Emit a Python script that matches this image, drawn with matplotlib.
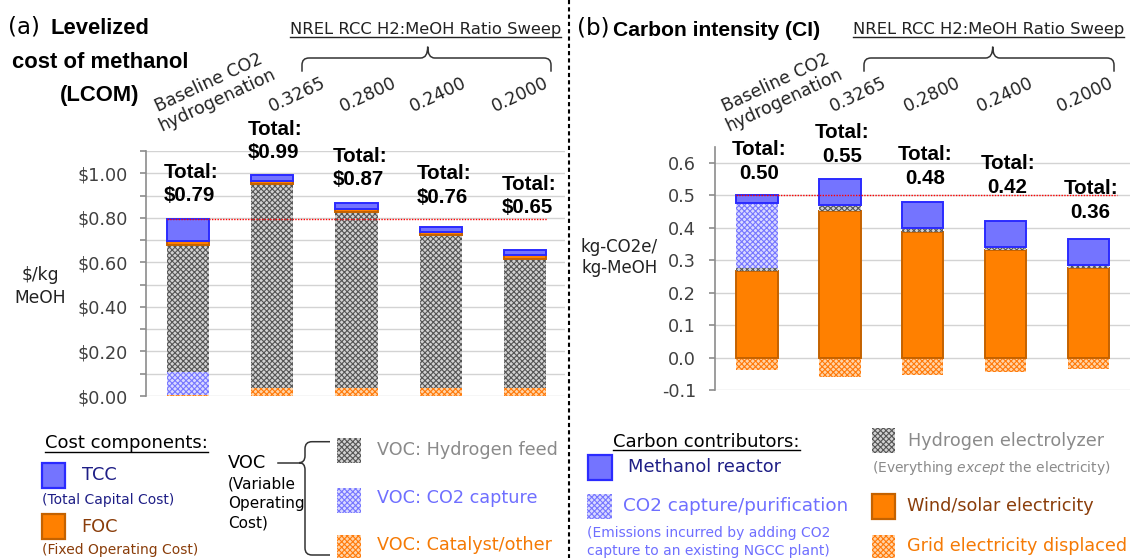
import matplotlib
matplotlib.use('Agg')
import numpy as np
import matplotlib.pyplot as plt
from matplotlib.patches import Rectangle, PathPatch
from matplotlib.path import Path
from matplotlib.ticker import FixedLocator, FuncFormatter

plt.rcParams['font.family'] = ['DejaVu Sans']
plt.rcParams['hatch.linewidth'] = 0.8

# ---------------- data ----------------
cases = ['Baseline CO2\nhydrogenation', '0.3265', '0.2800', '0.2400', '0.2000']

# (a) Levelized cost of methanol, $/kg MeOH
lcom_catalyst = [0.004, 0.035, 0.035, 0.035, 0.035]
lcom_co2 = [0.106, 0.0, 0.0, 0.0, 0.0]
lcom_h2 = [0.566, 0.916, 0.793, 0.687, 0.580]
lcom_foc = [0.021, 0.014, 0.012, 0.016, 0.018]
lcom_tcc = [0.096, 0.027, 0.028, 0.022, 0.023]
lcom_totals = ['$0.79', '$0.99', '$0.87', '$0.76', '$0.65']

# (b) Carbon intensity, kg-CO2e / kg-MeOH
ci_grid = [-0.038, -0.060, -0.053, -0.045, -0.036]
ci_wind = [0.268, 0.452, 0.386, 0.331, 0.277]
ci_h2 = [0.007, 0.018, 0.014, 0.011, 0.008]
ci_co2 = [0.200, 0.0, 0.0, 0.0, 0.0]
ci_reactor = [0.025, 0.079, 0.080, 0.080, 0.080]
ci_totals = ['0.50', '0.55', '0.48', '0.42', '0.36']

# ---------------- layout ----------------
W, H = 1133, 558
BOLD = ['Liberation Sans', 'DejaVu Sans']
REG = ['DejaVu Sans']
TICKC = '#404040'
NAVY = '#1e1e86'
LBLUE = '#6f6fff'
BROWN = '#8a3d0a'
ORANGE = '#f57a05'
GRAY = '#8a8a8a'

STY = {
    'h2': dict(facecolor='#d2d2d2', edgecolor='#555555', hatch='xxxxxx', linewidth=0),
    'co2': dict(facecolor='#dadaff', edgecolor='#7676ff', hatch='xxxxxx', linewidth=0),
    'cat': dict(facecolor='#ffd4a8', edgecolor='#ff7a0a', hatch='xxxxxx', linewidth=0),
    'tcc': dict(facecolor='#7474ff', edgecolor='#2b2bff', linewidth=1.4),
    'foc': dict(facecolor='#ff8000', edgecolor='#c46200', linewidth=1.4),
}

fig = plt.figure(figsize=(W / 100, H / 100), dpi=100)


def px_axes(x0, y0, x1, y1):
    return fig.add_axes([x0 / W, 1 - y1 / H, (x1 - x0) / W, (y1 - y0) / H])


ax1 = px_axes(145.5, 151, 565, 396)
ax2 = px_axes(715.4, 146.5, 1130, 390.2)
x = np.arange(len(cases))
BW = 0.5


def stack(ax, series):
    bottom = np.zeros(len(x))
    for vals, key in series:
        vals = np.asarray(vals, dtype=float)
        ax.bar(x, vals, BW, bottom=bottom, zorder=2, **STY[key])
        bottom = bottom + vals
    return bottom


tot1 = stack(ax1, [(lcom_catalyst, 'cat'), (lcom_co2, 'co2'), (lcom_h2, 'h2'),
                   (lcom_foc, 'foc'), (lcom_tcc, 'tcc')])
ax2.bar(x, ci_grid, BW, zorder=2, **STY['cat'])
tot2 = stack(ax2, [(ci_wind, 'foc'), (ci_h2, 'h2'), (ci_co2, 'co2'), (ci_reactor, 'tcc')])

# baseline reference lines
ax1.hlines(tot1[0], -0.25, 4.26, colors='red', linestyles=(0, (1, 1)), lw=1, zorder=3)
ax2.hlines(tot2[0], -0.25, 4.34, colors='red', linestyles=(0, (1, 1)), lw=1, zorder=3)

for ax in (ax1, ax2):
    for s in ('top', 'right', 'bottom'):
        ax.spines[s].set_visible(False)
    ax.spines['left'].set_color('#8c8c8c')
    ax.spines['left'].set_linewidth(1.2)
    ax.set_xticks([])
    ax.set_axisbelow(True)
    ax.set_facecolor('none')

ax1.set_xlim(-0.5, 4.47)
ax1.set_ylim(0, 1.1)
ax1.yaxis.set_major_locator(FixedLocator([0, 0.2, 0.4, 0.6, 0.8, 1.0]))
ax1.yaxis.set_minor_locator(FixedLocator([0.1, 0.3, 0.5, 0.7, 0.9, 1.1]))
ax1.yaxis.set_major_formatter(FuncFormatter(lambda v, p: f'${v:.2f}'))
ax1.yaxis.grid(True, which='both', color='#d3d3d3', lw=1)
ax1.tick_params(axis='y', which='both', length=4, width=1.2, color='#8c8c8c',
                labelsize=12.7, labelcolor=TICKC, pad=9)

ax2.set_xlim(-0.5, 4.5)
ax2.set_ylim(-0.1, 0.65)
yt2 = np.round(np.arange(-0.1, 0.61, 0.1), 1)
ax2.yaxis.set_major_locator(FixedLocator(yt2))
ax2.yaxis.set_major_formatter(FuncFormatter(lambda v, p: f'{round(v, 1) + 0.0:.1f}'))
ax2.yaxis.grid(True, color='#d3d3d3', lw=1)
ax2.tick_params(axis='y', length=4, width=1.2, color='#8c8c8c',
                labelsize=12.7, labelcolor=TICKC, pad=10)

# total labels
lab_y1 = [0.953, 1.145, 1.022, 0.945, 0.900]
lab_y2 = [0.604, 0.656, 0.589, 0.561, 0.485]
for i in range(len(x)):
    for s, dy in (('Total:', 8.3), (lcom_totals[i], -8.3)):
        ax1.annotate(s, xy=(x[i] - BW / 2 - 0.035, lab_y1[i]), xytext=(0, dy),
                     textcoords='offset points', ha='left', va='center',
                     fontsize=14.8, fontweight='bold', family=BOLD, annotation_clip=False)
    for s, dy in (('Total:', 8.6), (ci_totals[i], -8.6)):
        ax2.annotate(s, xy=(x[i] + 0.025, lab_y2[i]), xytext=(0, dy),
                     textcoords='offset points', ha='center', va='center',
                     fontsize=14.8, fontweight='bold', family=BOLD, annotation_clip=False)

# ---------------- overlay in pixel coordinates ----------------
ov = fig.add_axes([0, 0, 1, 1])
ov.set_xlim(0, W)
ov.set_ylim(H, 0)
ov.axis('off')
renderer = fig.canvas.get_renderer()


def T(xx, yy, s, size=12.7, color='black', ha='left', va='center', family=REG, **kw):
    return ov.text(xx, yy, s, fontsize=size, color=color, ha=ha, va=va, family=family, **kw)


def underline(t, y, color='black'):
    bb = t.get_window_extent(renderer)
    (x0, _), (x1, _) = ov.transData.inverted().transform([[bb.x0, bb.y0], [bb.x1, bb.y1]])
    ov.plot([x0, x1], [y, y], color=color, lw=1)


def hbrace(x0, xm, x1, ytop, ypeak, ybot, r=7):
    v = [(x0, ybot), (x0, ytop + r), (x0, ytop), (x0 + r, ytop), (xm - r, ytop),
         (xm, ytop), (xm, ypeak),
         (xm, ypeak), (xm, ytop), (xm + r, ytop), (x1 - r, ytop), (x1, ytop), (x1, ytop + r),
         (x1, ybot)]
    c = [Path.MOVETO, Path.LINETO, Path.CURVE3, Path.CURVE3, Path.LINETO, Path.CURVE3, Path.CURVE3,
         Path.MOVETO, Path.CURVE3, Path.CURVE3, Path.LINETO, Path.CURVE3, Path.CURVE3, Path.LINETO]
    ov.add_patch(PathPatch(Path(v, c), fill=False, lw=1.1, edgecolor='#333333'))


def vbrace(y0, ym, y1, xs, xtip, xend, r=7):
    v = [(xend, y0), (xs + r, y0), (xs, y0), (xs, y0 + r), (xs, ym - r), (xs, ym), (xtip, ym),
         (xtip, ym), (xs, ym), (xs, ym + r), (xs, y1 - r), (xs, y1), (xs + r, y1), (xend, y1)]
    c = [Path.MOVETO, Path.LINETO, Path.CURVE3, Path.CURVE3, Path.LINETO, Path.CURVE3, Path.CURVE3,
         Path.MOVETO, Path.CURVE3, Path.CURVE3, Path.LINETO, Path.CURVE3, Path.CURVE3, Path.LINETO]
    ov.add_patch(PathPatch(Path(v, c), fill=False, lw=1.1, edgecolor='#333333'))


def swatch(x0, y0, w, h, key):
    st = dict(STY[key])
    if key in ('tcc', 'foc'):
        st['linewidth'] = 1.6
    ov.add_patch(Rectangle((x0, y0), w, h, **st))


# titles
T(8, 27, '(a)', size=16.5)
T(100, 29, 'Levelized', size=15.8, ha='center', family=BOLD, fontweight='bold')
T(100, 62, 'cost of methanol', size=15.8, ha='center', family=BOLD, fontweight='bold')
T(100, 95, '(LCOM)', size=15.8, ha='center', family=BOLD, fontweight='bold')
T(577, 28, '(b)', size=16.5)
T(613, 31, 'Carbon intensity (CI)', size=15.2, family=BOLD, fontweight='bold')

# ratio-sweep headers and braces
for xl, (b0, bm, b1) in ((290, (302, 427.7, 551)), (852.7, (864, 992.7, 1114))):
    t = T(xl, 34.3, 'NREL RCC H2:MeOH Ratio Sweep', size=11.8, color='#222222', va='baseline')
    underline(t, 36.6, '#222222')
    hbrace(b0, bm, b1, 58, 46.7, 71.7)

# category labels (anchored at the baseline start of the last line)
ROT = 25
cat_pos1 = [(161, 130.5), (271.7, 111.7), (343.3, 111.7), (413.3, 111.7), (495, 111.7)]
cat_pos2 = [(728, 130.5), (833.3, 111.7), (906.7, 111.7), (980, 111.7), (1060, 111.7)]
for pos in (cat_pos1, cat_pos2):
    for (cx, cy), s in zip(pos, cases):
        T(cx, cy, s, size=12.5, color='#222222', va='baseline', rotation=ROT,
          rotation_mode='anchor', multialignment='center', linespacing=1.05)

# y labels
T(40, 275, '$/kg', size=12.3, ha='center', color='#222222')
T(40, 298.3, 'MeOH', size=12.3, ha='center', color='#222222')
T(619.4, 246.7, 'kg-CO2e/', size=12.0, ha='center', color='#222222')
T(619.4, 268.3, 'kg-MeOH', size=12.0, ha='center', color='#222222')

# divider
ov.plot([569, 569], [0, H], color='black', lw=1.5, ls=(0, (2, 1.5)))

# ---- left legend ----
t = T(45, 448.3, 'Cost components:', size=13, va='baseline')
underline(t, 452)
swatch(41.7, 462.7, 23.3, 25, 'tcc')
T(81.7, 475, 'TCC', size=12.8, color=NAVY)
T(41.7, 500, '(Total Capital Cost)', size=10, color=NAVY)
swatch(41.7, 514, 23.3, 25, 'foc')
T(81.7, 526.5, 'FOC', size=12.8, color=BROWN)
T(41.7, 550, '(Fixed Operating Cost)', size=10, color=BROWN)
T(228, 462.7, 'VOC', size=12.8)
T(228, 484.3, '(Variable', size=11)
T(228, 503.5, 'Operating', size=11)
T(228, 522.7, 'Cost)', size=11)
ov.plot([278.3, 299], [462.7, 462.7], color='#333333', lw=1.1)
vbrace(441.7, 462.7, 555, 305, 299, 330)
swatch(336.7, 438.3, 24.3, 25, 'h2')
swatch(336.7, 488.3, 24.3, 24.4, 'co2')
swatch(336.7, 535, 24.3, 25, 'cat')
T(376.7, 450, 'VOC: Hydrogen feed', size=12.7, color=GRAY)
T(376.7, 498.3, 'VOC: CO2 capture', size=12.7, color=LBLUE)
T(376.7, 545, 'VOC: Catalyst/other', size=12.7, color=ORANGE)

# ---- right legend ----
t = T(613.3, 446.7, 'Carbon contributors:', size=13, va='baseline')
underline(t, 450)
swatch(588.3, 455, 24, 25, 'tcc')
T(628.3, 466.7, 'Methanol reactor', size=12.9, color=NAVY)
swatch(587, 494, 24.7, 25.3, 'co2')
T(623.3, 506, 'CO2 capture/purification', size=13.2, color=LBLUE)
T(587.3, 533.3, '(Emissions incurred by adding CO2', size=10, color=LBLUE)
T(587.3, 551, 'capture to an existing NGCC plant)', size=10, color=LBLUE)
swatch(871.7, 428.3, 23.3, 25, 'h2')
T(908.3, 440.7, 'Hydrogen electrolyzer', size=12.7, color=GRAY)
T(871.7, 468.3, r'(Everything $\mathit{except}$ the electricity)', size=10, color=GRAY)
swatch(871.7, 494, 23.3, 25.3, 'foc')
T(906.7, 506, 'Wind/solar electricity', size=12.7, color=BROWN)
swatch(871.7, 535, 23.3, 25, 'cat')
T(906.7, 546, 'Grid electricity displaced', size=12.7, color=ORANGE)

fig.savefig('out.png', dpi=100)
